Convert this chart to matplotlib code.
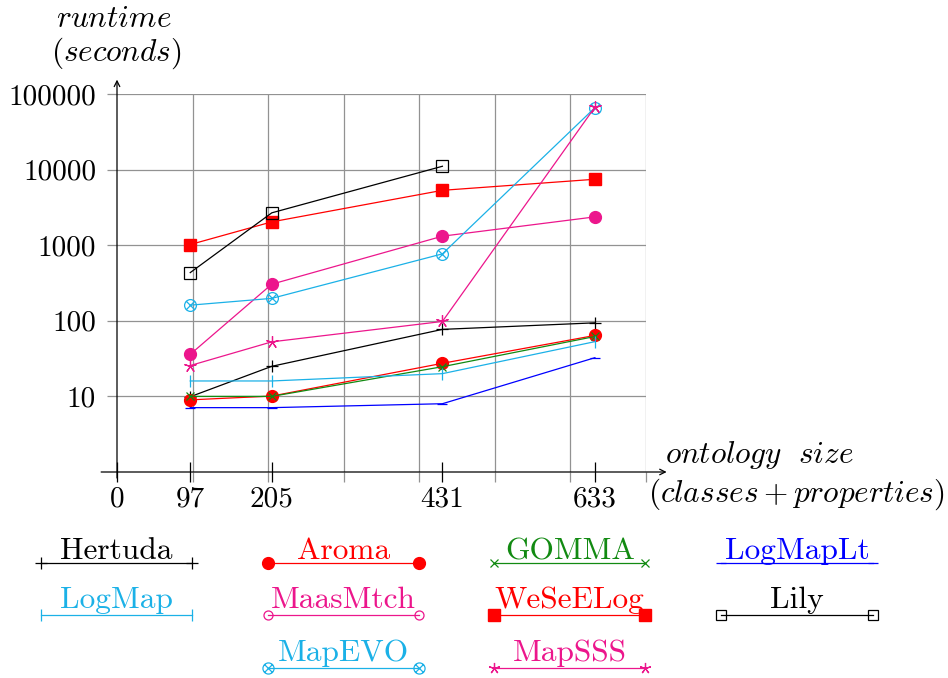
import matplotlib
matplotlib.use("Agg")
import matplotlib.pyplot as plt
from matplotlib.path import Path
from matplotlib.lines import Line2D
from matplotlib.ticker import NullLocator
import numpy as np

plt.rcParams['mathtext.fontset'] = 'cm'
plt.rcParams['font.family'] = 'cmr10'
plt.rcParams['axes.unicode_minus'] = False
plt.rcParams['axes.formatter.use_mathtext'] = True

# ---------------- data ----------------
sizes = [97, 205, 431, 633]
hertuda = [9.9, 25, 77, 94]
aroma = [9.0, 10.1, 27.4, 64]
gomma = [10, 10, 24.7, 62]
logmaplt = [7.1, 7.1, 8.0, 32.5]
logmap = [16, 16, 20, 53]
maasmtch = [36, 305, 1316, 2370]
weselog = [1020, 2035, 5320, 7450]
lily_sizes = [97, 205, 431]
lily = [434, 2680, 11070]
mapevo = [161, 198, 768, 65900]
mapsss = [25.6, 52.7, 98, 67000]

xtick_vals = [0, 97, 205, 431, 633]
xtick_labels = ['0', '97', '205', '431', '633']
ytick_vals = [10, 100, 1000, 10000, 100000]
ytick_labels = ['10', '100', '1000', '10000', '100000']

# ---------------- styles ----------------
W, H = 948, 678
FS = 21
FS_LEG = 22.6
FS_LAB = 22.5
GRID = '#929292'
CYAN = '#1BB1E7'
MAG = '#EC168C'
GREEN = '#128A12'
RED = '#FF0000'
BLUE = '#0000FF'

r = 1 / np.sqrt(2)
circ = Path.unit_circle()
xp = Path([(-r, -r), (r, r), (-r, r), (r, -r)],
          [Path.MOVETO, Path.LINETO, Path.MOVETO, Path.LINETO])
OTIMES = Path.make_compound_path(circ, xp)
STAR = (5, 2, 0)

fig = plt.figure(figsize=(W / 100, H / 100), dpi=100)
ax = fig.add_axes([117 / W, 1 - 472 / H, 528.5 / W, 378 / H])
ax.set_xlim(0, 700)
ax.set_yscale('log')
ax.set_ylim(1, 1e5)
for s in ax.spines.values():
    s.set_visible(False)

ax.set_xticks(np.arange(100, 701, 100))
ax.set_xticklabels([])
ax.set_xticks(xtick_vals, minor=True)
ax.set_xticklabels(xtick_labels, minor=True)
ax.tick_params(axis='x', which='major', length=7, direction='out', color=GRID, width=0.9)
ax.tick_params(axis='x', which='minor', length=14, direction='inout', color='black',
               width=0.9, labelsize=FS, pad=3)
ax.set_yticks(ytick_vals)
ax.set_yticklabels(ytick_labels)
ax.yaxis.set_minor_locator(NullLocator())
ax.tick_params(axis='y', which='major', length=7, direction='out', color=GRID,
               width=0.9, labelsize=FS, pad=8)
ax.grid(True, which='major', color=GRID, lw=0.9)
ax.set_axisbelow(True)

# axis arrows
ax.annotate('', xy=(728, 1), xytext=(-21, 1), xycoords='data',
            arrowprops=dict(arrowstyle='->', lw=0.9, color='black', shrinkA=0, shrinkB=0),
            annotation_clip=False)
ax.annotate('', xy=(0, 10 ** 5.19), xytext=(0, 10 ** (-6 / 75.5)), xycoords='data',
            arrowprops=dict(arrowstyle='->', lw=0.9, color='black', shrinkA=0, shrinkB=0),
            annotation_clip=False)

LW = 0.9
series = [
    ('Hertuda', sizes, hertuda, dict(color='black', marker='+', ms=9, mew=0.9)),
    ('Aroma', sizes, aroma, dict(color=RED, marker='o', ms=8.5)),
    ('GOMMA', sizes, gomma, dict(color=GREEN, marker='x', ms=6, mew=0.9)),
    ('LogMapLt', sizes, logmaplt, dict(color=BLUE, marker='_', ms=7, mew=0.9)),
    ('LogMap', sizes, logmap, dict(color=CYAN, marker='|', ms=9, mew=0.9)),
    ('MaasMtch', sizes, maasmtch, dict(color=MAG, marker='o', ms=8.5)),
    ('WeSeELog', sizes, weselog, dict(color=RED, marker='s', ms=8)),
    ('Lily', lily_sizes, lily, dict(color='black', marker='s', ms=8, mfc='none', mew=0.9)),
    ('MapEVO', sizes, mapevo, dict(color=CYAN, marker=OTIMES, ms=8.5, mfc='none', mew=0.9)),
    ('MapSSS', sizes, mapsss, dict(color=MAG, marker=STAR, ms=9, mew=0.9)),
]
for name, xs, ys, st in series:
    ax.plot(xs, ys, lw=LW, clip_on=False, zorder=3, **st)

# axis labels
def fx(x):
    return x / W

def fy(y):
    return 1 - y / H

fig.text(fx(114), fy(27), r'$runtime$', ha='center', va='baseline', fontsize=FS_LAB)
fig.text(fx(116), fy(61), r'$(seconds)$', ha='center', va='baseline', fontsize=FS_LAB)
fig.text(fx(665), fy(463), r'$ontology\ \ size$', ha='left', va='baseline', fontsize=FS_LAB)
fig.text(fx(648), fy(502), r'$(classes+properties)$', ha='left', va='baseline', fontsize=FS_LAB)

# custom legend
cols = [(40.7, 192.3), (268.3, 418.7), (494.3, 645.3), (721.3, 872.7)]
rows = [(562.7, 559), (615, 608), (668.3, 661)]
leg = [
    ('Hertuda', 0, 0, dict(color='black', marker='+', ms=9, mew=0.9)),
    ('Aroma', 1, 0, dict(color=RED, marker='o', ms=8.5)),
    ('GOMMA', 2, 0, dict(color=GREEN, marker='x', ms=6, mew=0.9)),
    ('LogMapLt', 3, 0, dict(color=BLUE, marker='_', ms=7, mew=0.9)),
    ('LogMap', 0, 1, dict(color=CYAN, marker='|', ms=9, mew=0.9)),
    ('MaasMtch', 1, 1, dict(color=MAG, marker='o', ms=6.5, mfc='none', mew=0.9)),
    ('WeSeELog', 2, 1, dict(color=RED, marker='s', ms=8)),
    ('Lily', 3, 1, dict(color='black', marker='s', ms=7.5, mfc='none', mew=0.9)),
    ('MapEVO', 1, 2, dict(color=CYAN, marker=OTIMES, ms=8, mfc='none', mew=0.9)),
    ('MapSSS', 2, 2, dict(color=MAG, marker=STAR, ms=8, mew=0.9)),
]
for name, c, rr, st in leg:
    x0, x1 = cols[c]
    yl, yb = rows[rr]
    fig.add_artist(Line2D([fx(x0), fx(x1)], [fy(yl), fy(yl)], transform=fig.transFigure,
                          lw=LW, **st))
    fig.text(fx((x0 + x1) / 2), fy(yb), name, ha='center', va='baseline',
             fontsize=FS_LEG, color=st['color'])

fig.savefig('out.png', dpi=100)
